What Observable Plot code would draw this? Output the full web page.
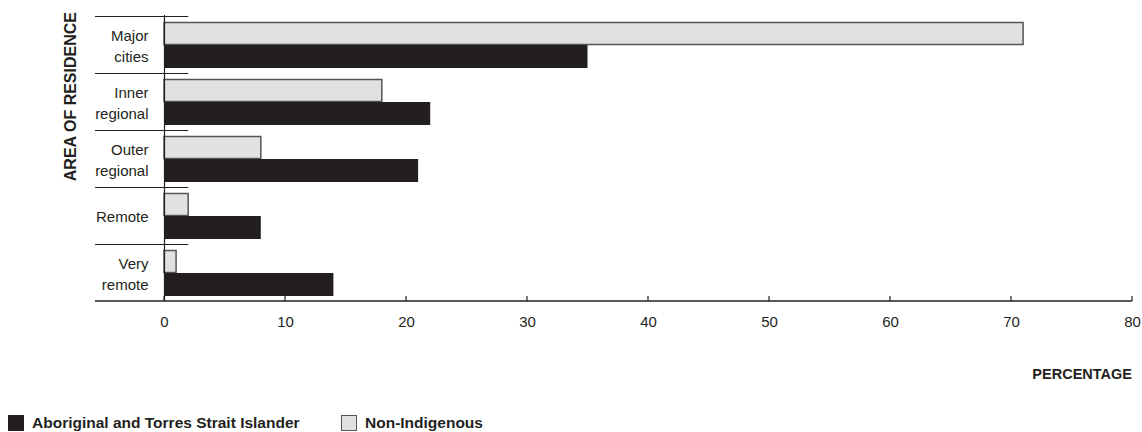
<!DOCTYPE html>
<html>
<head>
<meta charset="utf-8">
<script src="https://cdn.jsdelivr.net/npm/d3@7"></script>
<script src="https://cdn.jsdelivr.net/npm/@observablehq/plot@0.6"></script>
<style>
  body { margin: 0; background: #fff; }
  #wrap { position: relative; width: 1142px; height: 432px; font-family: "Liberation Sans", Arial, sans-serif; color: #231f20; }
  .legend { position: absolute; top: 414px; font-weight: bold; font-size: 15.5px; display: flex; align-items: center; }
  .sw { width: 16px; height: 16px; margin-right: 8px; box-sizing: border-box; }
</style>
</head>
<body>
<div id="wrap"></div>
<script>
const regions = ["Major cities", "Inner regional", "Outer regional", "Remote", "Very remote"];
const regionLabels = ["Major\ncities", "Inner\nregional", "Outer\nregional", "Remote", "Very\nremote"];
const aboriginal = [35, 22, 21, 8, 14];
const nonIndigenous = [71, 18, 8, 2, 1];
const xTicks = [0, 10, 20, 30, 40, 50, 60, 70, 80];
const seriesNames = ["Aboriginal and Torres Strait Islander", "Non-Indigenous"];
const colors = ["#231f20", "#e0e1e3"];

const labelOf = new Map(regions.map((r, i) => [r, regionLabels[i]]));
const nonData = regions.map((r, i) => ({region: r, value: nonIndigenous[i]}));
const abData = regions.map((r, i) => ({region: r, value: aboriginal[i]}));

const chart = Plot.plot({
  width: 1142,
  height: 400,
  marginLeft: 164,
  marginRight: 10,
  marginTop: 15,
  marginBottom: 99,
  style: {fontFamily: "'Liberation Sans', Arial, sans-serif", fontSize: "15px", color: "#231f20", background: "#fff"},
  x: {domain: [0, 80]},
  y: {domain: regions, padding: 0},
  marks: [
    Plot.barX(nonData, {x: "value", y: "region", fill: colors[1], stroke: "#555", strokeWidth: 1.5, insetTop: 6.5, insetBottom: 28.5}),
    Plot.barX(abData, {x: "value", y: "region", fill: colors[0], insetTop: 29, insetBottom: 5}),
    Plot.ruleX([0], {stroke: "#231f20", strokeWidth: 1.2}),
    Plot.axisY({tickSize: 0, tickPadding: 16, label: null, lineHeight: 1.35, tickFormat: d => labelOf.get(d), fill: "#231f20", fontSize: 15}),
    Plot.axisX({ticks: xTicks, tickSize: 0, tickPadding: 15, label: null, fill: "#231f20", fontSize: 15})
  ]
});

const svg = d3.select(chart);
const xs = chart.scale("x");
const ys = chart.scale("y");
const left = 95;
const bottom = ys.apply(regions[regions.length - 1]) + ys.bandwidth;
const g = svg.append("g").attr("stroke", "#231f20").attr("stroke-width", 1.2);
// group separators
regions.forEach(r => {
  const y = ys.apply(r) + 0.5;
  g.append("line").attr("x1", left).attr("x2", xs.apply(2)).attr("y1", y).attr("y2", y);
});
// baseline
g.append("line").attr("x1", left).attr("x2", xs.apply(80)).attr("y1", bottom).attr("y2", bottom).attr("stroke-width", 1.5);
// ticks upward
xTicks.forEach(t => {
  const x = xs.apply(t);
  g.append("line").attr("x1", x).attr("x2", x).attr("y1", bottom - 5).attr("y2", bottom);
});
// axis titles
svg.append("text").text("AREA OF RESIDENCE")
  .attr("transform", `translate(76,12) rotate(-90)`)
  .attr("text-anchor", "end").attr("font-weight", "bold").attr("font-size", 16).attr("fill", "#231f20");
svg.append("text").text("PERCENTAGE")
  .attr("x", xs.apply(80)).attr("y", 379)
  .attr("text-anchor", "end").attr("font-weight", "bold").attr("font-size", 14.5).attr("fill", "#231f20");

const wrap = document.getElementById("wrap");
wrap.appendChild(chart);

const legendPos = [8, 341];
seriesNames.forEach((name, i) => {
  const item = document.createElement("div");
  item.className = "legend";
  item.style.left = legendPos[i] + "px";
  const sw = document.createElement("div");
  sw.className = "sw";
  sw.style.background = colors[i];
  sw.style.border = i === 1 ? "1.5px solid #555" : "none";
  item.appendChild(sw);
  const t = document.createElement("span");
  t.textContent = name;
  item.appendChild(t);
  wrap.appendChild(item);
});
</script>
</body>
</html>
